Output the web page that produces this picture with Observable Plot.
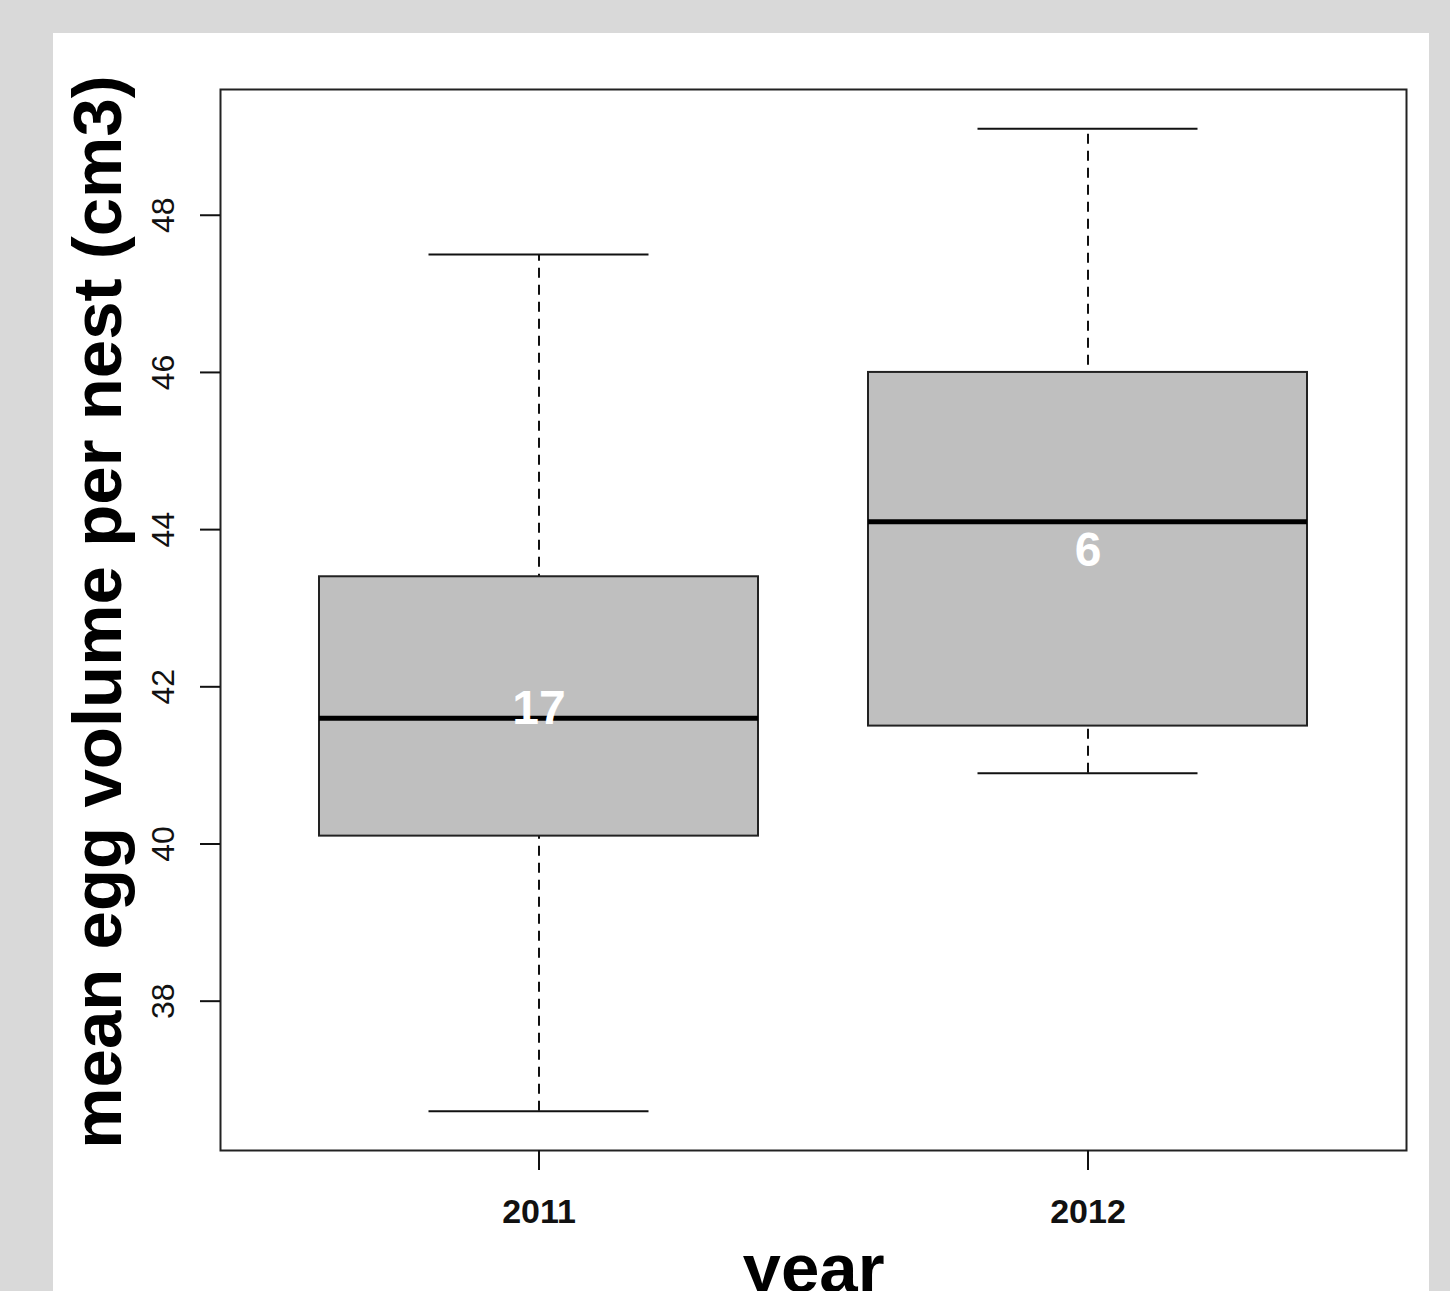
<!DOCTYPE html>
<html><head><meta charset="utf-8">
<script src="https://cdn.jsdelivr.net/npm/d3@7"></script>
<script src="https://cdn.jsdelivr.net/npm/@observablehq/plot@0.6"></script>
<style>
html,body{margin:0;padding:0;background:#d9d9d9;overflow:hidden;width:1450px;height:1291px;}
#panel{position:absolute;left:53px;top:33px;width:1376px;height:1258px;background:#fff;overflow:hidden;}
</style></head><body><div id="panel"></div>
<script>
const years = ["2011", "2012"];
const whiskerLow = [36.6, 40.9];
const q1 = [40.1, 41.5];
const median = [41.6, 44.1];
const q3 = [43.4, 46.0];
const whiskerHigh = [47.5, 49.1];
const counts = ["17", "6"];
const countY = [41.72, 43.73];
const yTicks = [38, 40, 42, 44, 46, 48];
const yLabel = "mean egg volume per nest (cm3)";
const xLabel = "year";

const data = years.map((year, i) => ({
  year, lo: whiskerLow[i], q1: q1[i], med: median[i], q3: q3[i], hi: whiskerHigh[i], n: counts[i], ny: countY[i]
}));
const font = '"Liberation Sans", Arial, Helvetica, sans-serif';

const chart = Plot.plot({
  width: 1376, height: 1258,
  marginLeft: 167, marginRight: 23, marginTop: 56, marginBottom: 141,
  style: {fontFamily: font, background: "transparent", overflow: "visible", color: "#111"},
  x: {type: "band", domain: years, paddingInner: 0.2, paddingOuter: 0.18},
  y: {domain: [36.1, 49.6]},
  marks: [
    Plot.ruleX(data, {x: "year", y1: "lo", y2: "hi", stroke: "#111", strokeWidth: 2, strokeDasharray: "10,7"}),
    Plot.tickY(data, {x: "year", y: "lo", insetLeft: 109.5, insetRight: 109.5, stroke: "#111", strokeWidth: 2}),
    Plot.tickY(data, {x: "year", y: "hi", insetLeft: 109.5, insetRight: 109.5, stroke: "#111", strokeWidth: 2}),
    Plot.barY(data, {x: "year", y1: "q1", y2: "q3", fill: "#bfbfbf", stroke: "#222", strokeWidth: 2}),
    Plot.tickY(data, {x: "year", y: "med", stroke: "#000", strokeWidth: 5}),
    Plot.text(data, {x: "year", y: "ny", text: "n", fill: "#fff", fontSize: 48, fontWeight: "bold"}),
    Plot.frame({stroke: "#222", strokeWidth: 2}),
    Plot.axisY({ticks: yTicks, tickSize: 20, tickPadding: 27, tickRotate: -90, fontSize: 32, label: null, strokeWidth: 2}),
    Plot.axisX({tickSize: 20, tickPadding: 28, fontSize: 34, fontWeight: "bold", label: null, strokeWidth: 2}),
    Plot.text([yLabel], {frameAnchor: "left", textAnchor: "middle", rotate: -90, dx: -100, dy: -8, lineAnchor: "bottom", fontSize: 69, fontWeight: "bold", text: d => d, fill: "#000"}),
    Plot.text([xLabel], {frameAnchor: "bottom", textAnchor: "middle", dy: 141, lineAnchor: "bottom", fontSize: 69, fontWeight: "bold", text: d => d, fill: "#000"})
  ]
});
document.getElementById("panel").append(chart);
</script>
</body></html>
